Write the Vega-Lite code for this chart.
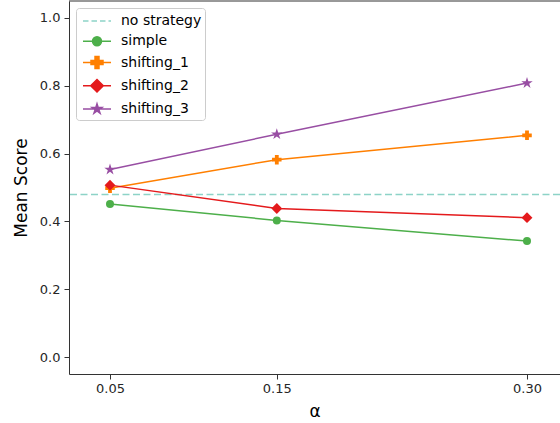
{
  "$schema": "https://vega.github.io/schema/vega-lite/v6.json",
  "autosize": {"type": "none"},
  "padding": {"left": 69, "top": 1, "right": 0, "bottom": 49},
  "width": 491,
  "height": 373,
  "background": "white",
  "config": {
    "view": {"stroke": null},
    "font": "DejaVu Sans",
    "axis": {
      "grid": false,
      "domainColor": "#333333",
      "domainWidth": 1,
      "tickColor": "#333333",
      "tickSize": 5,
      "tickWidth": 1,
      "labelFont": "DejaVu Sans",
      "labelFontSize": 13,
      "labelColor": "#262626",
      "titleFont": "DejaVu Sans",
      "titleFontSize": 17,
      "titleFontWeight": "normal",
      "titleColor": "#000000"
    }
  },
  "datasets": {
    "scores": [
      {"alpha": 0.05, "score": 0.451, "strategy": "simple"},
      {"alpha": 0.15, "score": 0.403, "strategy": "simple"},
      {"alpha": 0.30, "score": 0.342, "strategy": "simple"},
      {"alpha": 0.05, "score": 0.498, "strategy": "shifting_1"},
      {"alpha": 0.15, "score": 0.582, "strategy": "shifting_1"},
      {"alpha": 0.30, "score": 0.654, "strategy": "shifting_1"},
      {"alpha": 0.05, "score": 0.507, "strategy": "shifting_2"},
      {"alpha": 0.15, "score": 0.438, "strategy": "shifting_2"},
      {"alpha": 0.30, "score": 0.411, "strategy": "shifting_2"},
      {"alpha": 0.05, "score": 0.553, "strategy": "shifting_3"},
      {"alpha": 0.15, "score": 0.657, "strategy": "shifting_3"},
      {"alpha": 0.30, "score": 0.808, "strategy": "shifting_3"}
    ],
    "baseline": [
      {"score": 0.479, "strategy": "no strategy"}
    ],
    "frame": [
      {"top": 1.05}
    ]
  },
  "layer": [
    {
      "data": {"name": "frame"},
      "mark": {"type": "rule", "color": "#333333", "strokeWidth": 1},
      "encoding": {
        "y": {"field": "top", "type": "quantitative", "scale": {"domain": [-0.05, 1.05], "nice": false, "zero": false}}
      }
    },
    {
      "data": {"name": "baseline"},
      "mark": {"type": "rule", "strokeWidth": 1.5, "strokeDash": [7, 3.5]},
      "encoding": {
        "y": {"field": "score", "type": "quantitative"},
        "color": {
          "field": "strategy",
          "type": "nominal",
          "scale": {
            "domain": ["no strategy", "simple", "shifting_1", "shifting_2", "shifting_3"],
            "range": ["#8dd3c7", "#4daf4a", "#ff7f00", "#e41a1c", "#984ea3"]
          },
          "legend": {
            "title": null,
            "orient": "top-left",
            "offset": 7,
            "padding": 3,
            "fillColor": "white",
            "strokeColor": "#cccccc",
            "cornerRadius": 3,
            "labelFont": "DejaVu Sans",
            "labelFontSize": 14,
            "labelColor": "#000000",
            "symbolSize": 324,
            "symbolOffset": 8,
            "labelOffset": 14,
            "rowPadding": 3.25,
            "encode": {
              "symbols": {
                "update": {
                  "shape": {"signal": "datum.value === 'no strategy' ? 'M-1.556,0H1.556' : datum.value === 'simple' ? 'M-1.556,0H1.556M0.5,0A0.5,0.5,0,1,1,-0.5,0A0.5,0.5,0,1,1,0.5,0Z' : datum.value === 'shifting_1' ? 'M-1.556,0H1.556M-0.667,-0.22H-0.22V-0.667H0.22V-0.22H0.667V0.22H0.22V0.667H-0.22V0.22H-0.667Z' : datum.value === 'shifting_2' ? 'M-1.556,0H1.556M0,-0.7L0.7,0L0,0.7L-0.7,0Z' : 'M-1.556,0H1.556M0,-0.58L0.13,-0.18L0.55,-0.18L0.21,0.07L0.34,0.47L0,0.22L-0.34,0.47L-0.21,0.07L-0.55,-0.18L-0.13,-0.18Z'"},
                  "stroke": {"scale": "color", "field": "value"},
                  "fill": {"signal": "datum.value === 'no strategy' ? 'transparent' : scale('color', datum.value)"},
                  "strokeWidth": {"value": 1.5},
                  "strokeDash": {"signal": "datum.value === 'no strategy' ? [5.5, 3] : []"},
                  "opacity": {"value": 1}
                }
              }
            }
          }
        }
      }
    },
    {
      "data": {"name": "scores"},
      "mark": {"type": "line", "strokeWidth": 1.5},
      "encoding": {
        "x": {
          "field": "alpha",
          "type": "quantitative",
          "title": "α",
          "scale": {"domain": [0.02542, 0.31978], "nice": false, "zero": false},
          "axis": {"values": [0.05, 0.15, 0.30], "format": ".2f", "labelPadding": 3, "titlePadding": 8}
        },
        "y": {
          "field": "score",
          "type": "quantitative",
          "title": "Mean Score",
          "axis": {"values": [0, 0.2, 0.4, 0.6, 0.8, 1.0], "format": ".1f", "labelPadding": 4, "titlePadding": 9}
        },
        "color": {"field": "strategy", "type": "nominal", "legend": null},
        "detail": {"field": "strategy"}
      }
    },
    {
      "data": {"name": "scores"},
      "mark": {"type": "point", "filled": true, "opacity": 1},
      "encoding": {
        "x": {"field": "alpha", "type": "quantitative"},
        "y": {"field": "score", "type": "quantitative"},
        "color": {"field": "strategy", "type": "nominal", "legend": null},
        "shape": {
          "field": "strategy",
          "type": "nominal",
          "scale": {
            "domain": ["simple", "shifting_1", "shifting_2", "shifting_3"],
            "range": ["circle", "cross", "diamond", "M0,-1L0.225,-0.309L0.951,-0.309L0.363,0.118L0.588,0.809L0,0.382L-0.588,0.809L-0.363,0.118L-0.951,-0.309L-0.225,-0.309Z"]
          },
          "legend": null
        },
        "size": {
          "field": "strategy",
          "type": "nominal",
          "scale": {
            "domain": ["simple", "shifting_1", "shifting_2", "shifting_3"],
            "range": [64, 144, 160, 100]
          },
          "legend": null
        }
      }
    }
  ]
}
